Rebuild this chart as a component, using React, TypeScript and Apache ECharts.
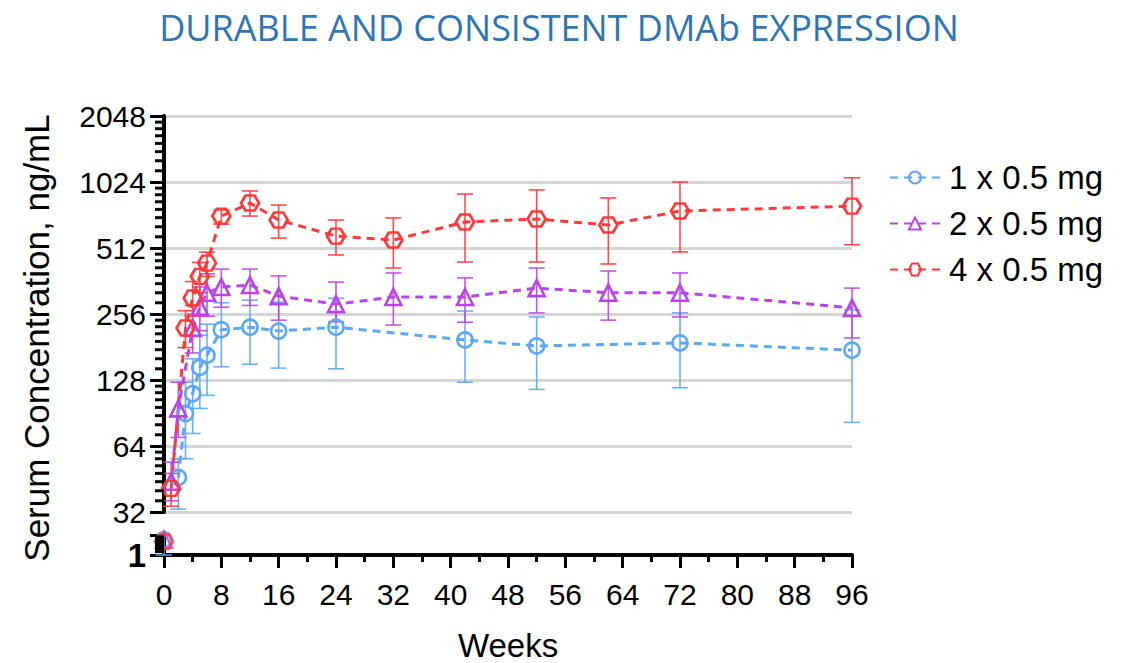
import React, { useEffect, useRef } from 'react';
import * as echarts from 'echarts';

// ---- Data ----
const seriesNames = ['1 x 0.5 mg', '2 x 0.5 mg', '4 x 0.5 mg'];

// upper (broken) segment, weeks
const blueWeeks = [2, 3, 4, 5, 6, 8, 12, 16, 24, 42, 52, 72, 96];
const blueMean = [46, 90, 111, 146, 166, 217, 223, 214, 223, 195, 183, 189, 175];
const blueLow = [33, 56, 73, 95, 109, 147, 151, 145, 144, 125, 116, 118, 82];
const blueHigh = [56, 125, 160, 205, 230, 288, 296, 290, 302, 264, 248, 259, 267];

const purpleWeeks = [1, 2, 4, 5, 6, 8, 12, 16, 24, 32, 42, 52, 62, 72, 96];
const purpleMean = [44, 95, 221, 276, 320, 340, 347, 309, 284, 306, 306, 336, 320, 320, 273];
const purpleLow = [36, 70, 170, 215, 250, 275, 280, 240, 236, 228, 235, 259, 240, 248, 199];
const purpleHigh = [54, 125, 280, 340, 390, 410, 410, 382, 358, 394, 374, 415, 402, 394, 336];

const redWeeks = [1, 3, 4, 5, 6, 8, 12, 16, 24, 32, 42, 52, 62, 72, 96];
const redMean = [41, 221, 303, 380, 437, 716, 821, 687, 580, 557, 673, 694, 652, 755, 795];
const redLow = [34, 180, 250, 320, 380, 658, 716, 568, 476, 415, 442, 442, 433, 491, 530];
const redHigh = [48, 265, 360, 440, 490, 763, 932, 804, 687, 702, 902, 942, 866, 1024, 1070];

// lower segment (baseline, week 0)
const baseWeek = [0];
const blueBase = [1.7];
const blueBaseLow = [1.0];
const blueBaseHigh = [1.95];
const purpleBase = [1.7];
const redBase = [1.6];

const yTicksUpper = [32, 64, 128, 256, 512, 1024, 2048];
const yTicksLower = [1, 2];
const minorSteps = [1, 2, 3, 4, 5, 6, 7]; // eighths between two labelled ticks
const xTicks = [0, 8, 16, 24, 32, 40, 48, 56, 64, 72, 80, 88, 96];

const COLORS = ['#5aa6f7', '#b844e8', '#ff3838'];
const HEX = 'path://M0,8.66L5,0L15,0L20,8.66L15,17.32L5,17.32Z';
const SYMBOLS: any[] = ['circle', 'triangle', HEX];
const SIZES: any[] = [15, 16, [18, 15]];

const FONT = 'Liberation Sans, Arial, Helvetica, sans-serif';

function zip(xs: number[], ys: number[]) {
  return xs.map((x, i) => [x, ys[i]]);
}

function minorValues(ticks: number[]) {
  const out: number[] = [];
  for (let i = 0; i < ticks.length - 1; i++) {
    const a = ticks[i];
    const b = ticks[i + 1];
    minorSteps.forEach((k) => out.push(a + ((b - a) * k) / 8));
  }
  return out;
}

function minorTickSeries(ticks: number[], idx: number) {
  return {
    type: 'custom',
    xAxisIndex: idx,
    yAxisIndex: idx,
    z: 5,
    silent: true,
    clip: false,
    data: minorValues(ticks).map((v) => [0, v]),
    encode: { x: 0, y: 1 },
    renderItem: (_p: any, api: any) => {
      const pt = api.coord([api.value(0), api.value(1)]);
      return {
        type: 'line',
        shape: { x1: pt[0] - 9, y1: pt[1], x2: pt[0], y2: pt[1] },
        style: { stroke: '#000', lineWidth: 3 },
      };
    },
  };
}

function errBars(name: string, xs: number[], lo: number[], hi: number[], color: string, idx: number) {
  return {
    type: 'custom',
    name,
    xAxisIndex: idx,
    yAxisIndex: idx,
    z: 1,
    silent: true,
    data: xs.map((x, i) => [x, lo[i], hi[i]]),
    encode: { x: 0, y: [1, 2] },
    renderItem: (_params: any, api: any) => {
      const x = api.value(0);
      const top = api.coord([x, api.value(2)]);
      const bot = api.coord([x, api.value(1)]);
      const w = 8;
      const style = { stroke: color, lineWidth: 1.6, fill: 'none', opacity: 0.9 };
      return {
        type: 'group',
        children: [
          { type: 'line', shape: { x1: top[0], y1: top[1], x2: bot[0], y2: bot[1] }, style },
          { type: 'line', shape: { x1: top[0] - w, y1: top[1], x2: top[0] + w, y2: top[1] }, style },
          { type: 'line', shape: { x1: bot[0] - w, y1: bot[1], x2: bot[0] + w, y2: bot[1] }, style },
        ],
      };
    },
  };
}

function lineSeries(i: number, xs: number[], ys: number[], idx: number, isLine: boolean) {
  return {
    type: isLine ? 'line' : 'scatter',
    name: seriesNames[i],
    xAxisIndex: idx,
    yAxisIndex: idx,
    z: 3,
    data: zip(xs, ys),
    symbol: SYMBOLS[i],
    symbolSize: SIZES[i],
    showAllSymbol: true,
    itemStyle: { color: 'rgba(255,255,255,0)', borderColor: COLORS[i], borderWidth: 2.6 },
    lineStyle: { color: COLORS[i], width: 3, type: [8, 6] },
    emphasis: { disabled: true },
  };
}

export default function App() {
  const ref = useRef<HTMLDivElement>(null);
  useEffect(() => {
    if (!ref.current) return;
    const chart = echarts.init(ref.current, undefined, { renderer: 'svg' });
    const tickLine = { color: '#000', width: 3 };
    const option: any = {
      animation: false,
      backgroundColor: '#fff',
      grid: [
        { left: 164, top: 116, width: 688, height: 396 },
        { left: 164, top: 535, width: 688, height: 27 },
      ],
      xAxis: [
        { type: 'value', gridIndex: 0, min: 0, max: 96, interval: 8, show: false },
        {
          type: 'value',
          gridIndex: 1,
          min: xTicks[0],
          max: xTicks[xTicks.length - 1],
          interval: 8,
          axisLine: { show: true, onZero: false, lineStyle: { color: '#000', width: 4 } },
          axisTick: { show: true, length: 13, lineStyle: tickLine },
          minorTick: { show: true, splitNumber: 2, length: 7, lineStyle: tickLine },
          axisLabel: { fontSize: 30, color: '#000', fontFamily: FONT, margin: 24 },
          splitLine: { show: false },
          name: 'Weeks',
          nameLocation: 'middle',
          nameGap: 74,
          nameTextStyle: { fontSize: 33, color: '#000', fontFamily: FONT },
        },
      ],
      yAxis: [
        {
          type: 'log',
          logBase: 2,
          gridIndex: 0,
          min: yTicksUpper[0],
          max: yTicksUpper[yTicksUpper.length - 1],
          splitNumber: 6,
          axisLine: { show: true, lineStyle: { color: '#000', width: 4 } },
          axisTick: { show: true, length: 14, lineStyle: tickLine },
          axisLabel: {
            fontSize: 30,
            color: '#000',
            fontFamily: FONT,
            margin: 18,
            formatter: (v: number) => String(Math.round(v)),
          },
          splitLine: { show: true, lineStyle: { color: '#d4d4d4', width: 3 } },
        },
        {
          type: 'log',
          logBase: 2,
          gridIndex: 1,
          min: yTicksLower[0],
          max: yTicksLower[1],
          splitNumber: 1,
          axisLine: { show: true, lineStyle: { color: '#000', width: 4 } },
          axisTick: { show: true, length: 14, lineStyle: tickLine },
          axisLabel: {
            fontSize: 33,
            fontWeight: 'bold',
            color: '#000',
            fontFamily: FONT,
            margin: 18,
            formatter: (v: number) => (Math.abs(v - 1) < 1e-6 ? '1' : ''),
          },
          splitLine: { show: false },
        },
      ],
      legend: {
        data: seriesNames,
        orient: 'vertical',
        left: 884,
        top: 156,
        itemWidth: 50,
        itemHeight: 15,
        itemGap: 13,
        textStyle: { fontSize: 33, color: '#000', fontFamily: FONT, padding: [0, 0, 0, 4] },
      },
      graphic: [
        {
          type: 'text',
          x: 559,
          y: 27,
          style: {
            text: 'DURABLE AND CONSISTENT DMAb EXPRESSION',
            fill: '#2e75b6',
            font: '36px "Open Sans", sans-serif',
            textAlign: 'center',
            textVerticalAlign: 'middle',
          },
        },
        {
          type: 'text',
          x: 36,
          y: 338,
          rotation: Math.PI / 2,
          style: {
            text: 'Serum Concentration, ng/mL',
            fill: '#000',
            font: '35px ' + FONT,
            textAlign: 'center',
            textVerticalAlign: 'middle',
          },
        },
      ],
      series: [
        lineSeries(0, blueWeeks, blueMean, 0, true),
        lineSeries(1, purpleWeeks, purpleMean, 0, true),
        lineSeries(2, redWeeks, redMean, 0, true),
        errBars(seriesNames[0], blueWeeks, blueLow, blueHigh, COLORS[0], 0),
        errBars(seriesNames[1], purpleWeeks, purpleLow, purpleHigh, COLORS[1], 0),
        errBars(seriesNames[2], redWeeks, redLow, redHigh, COLORS[2], 0),
        errBars(seriesNames[0], baseWeek, blueBaseLow, blueBaseHigh, COLORS[0], 1),
        lineSeries(0, baseWeek, blueBase, 1, false),
        lineSeries(1, baseWeek, purpleBase, 1, false),
        lineSeries(2, baseWeek, redBase, 1, false),
        minorTickSeries(yTicksUpper, 0),
        minorTickSeries(yTicksLower, 1),
      ],
    };
    chart.setOption(option);
    return () => chart.dispose();
  }, []);
  return (
    <div
      ref={ref}
      style={{ position: 'fixed', left: 0, top: 0, width: 1139, height: 663, background: '#fff' }}
    />
  );
}
